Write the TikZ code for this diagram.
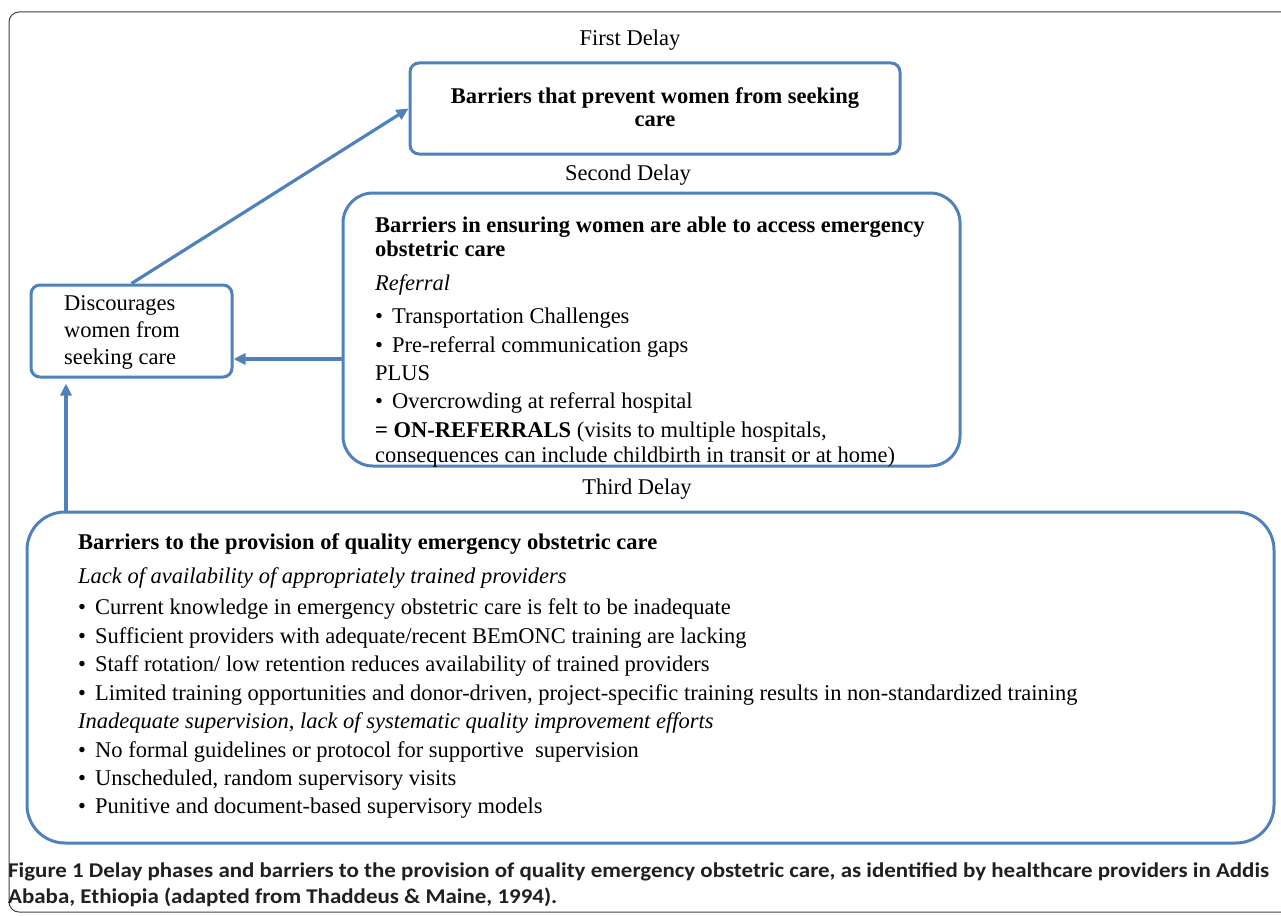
\documentclass[tikz,border=0pt]{standalone}
\usepackage{fontspec}
\setmainfont{Liberation Serif}
\newfontfamily\capfont[FakeStretch=1.092]{Carlito}
\usetikzlibrary{arrows.meta}
\definecolor{boxblue}{RGB}{79,129,189}
\definecolor{capgray}{RGB}{35,31,32}
\newcommand{\bul}{\makebox[17pt][l]{•}}
\begin{document}
\begin{tikzpicture}[x=1pt,y=-1pt,
  bbox/.style={draw=boxblue, line width=3pt, inner sep=0pt},
  arr/.style={draw=boxblue, line width=3.2pt, -{Triangle[length=12pt,width=11pt]}},
  txt/.style={anchor=base west, inner sep=0pt, font=\fontsize{22.5}{28}\selectfont},
  ctxt/.style={anchor=base, inner sep=0pt, font=\fontsize{22.5}{28}\selectfont},
  captxt/.style={anchor=base west, inner sep=0pt, text=capgray, font=\capfont\bfseries\fontsize{21}{26}\selectfont}]
\useasboundingbox (0,0) rectangle (1281,915);
\begin{scope}
\clip (0,0) rectangle (1281,915);
\draw[black!75, line width=1pt, rounded corners=10pt] (9,12) rectangle (1310,912);
\end{scope}

% boxes
\node[bbox, minimum width=490pt, minimum height=91pt, rounded corners=9pt] (b1) at (655,108.5) {};
\node[bbox, minimum width=617pt, minimum height=273pt, rounded corners=30pt] (b2) at (651.5,329.5) {};
\node[bbox, minimum width=1247pt, minimum height=331pt, rounded corners=38pt] (b3) at (650.5,677.5) {};
\node[bbox, minimum width=201pt, minimum height=92pt, rounded corners=9pt] (disc) at (131.5,331) {};

% delay labels
\node[ctxt] (d1) at (630,46) {First Delay};
\node[ctxt] (d2) at (628,180) {Second Delay};
\node[ctxt] (d3) at (637,494) {Third Delay};

% box 1
\node[ctxt] (b1a) at (655,104) {\bfseries Barriers that prevent women from seeking};
\node[ctxt] (b1b) at (655,127) {\bfseries care};

% discourages
\node[txt] (dc1) at (64,310) {Discourages};
\node[txt] (dc2) at (64,337) {women from};
\node[txt] (dc3) at (64,364) {seeking care};

% box 2
\node[txt] (s1) at (375,232) {\bfseries Barriers in ensuring women are able to access emergency};
\node[txt] (s2) at (375,256) {\bfseries obstetric care};
\node[txt] (s3) at (375,290) {\itshape Referral};
\node[txt] (s4) at (375,323) {\bul Transportation Challenges};
\node[txt] (s5) at (375,352) {\bul Pre-referral communication gaps};
\node[txt] (s6) at (375,380) {PLUS};
\node[txt] (s7) at (375,408) {\bul Overcrowding at referral hospital};
\node[txt] (s8) at (375,437) {\textbf{= ON-REFERRALS} (visits to multiple hospitals,};
\node[txt] (s9) at (375,462) {consequences can include childbirth in transit or at home)};

% box 3
\node[txt] (t1) at (78,549) {\bfseries Barriers to the provision of quality emergency obstetric care};
\node[txt] (t2) at (78,583) {\itshape Lack of availability of appropriately trained providers};
\node[txt] (t3) at (78,614) {\bul Current knowledge in emergency obstetric care is felt to be inadequate};
\node[txt] (t4) at (78,643) {\bul Sufficient providers with adequate/recent BEmONC training are lacking};
\node[txt] (t5) at (78,671.5) {\bul Staff rotation/ low retention reduces availability of trained providers};
\node[txt] (t6) at (78,700) {\bul Limited training opportunities and donor-driven, project-specific training results in non-standardized training};
\node[txt] (t7) at (78,728) {\itshape Inadequate supervision, lack of systematic quality improvement efforts};
\node[txt] (t8) at (78,757) {\bul No formal guidelines or protocol for supportive\ \ supervision};
\node[txt] (t9) at (78,785) {\bul Unscheduled, random supervisory visits};
\node[txt] (t10) at (78,813) {\bul Punitive and document-based supervisory models};

% connectors
\coordinate (a2) at (0,359);
\coordinate (a3) at (66,0);
\draw[arr] (disc.north) -- (b1.west);
\draw[arr] (b2.west |- a2) -- (disc.east |- a2);
\draw[arr, shorten >=5pt] (b3.north -| a3) -- (disc.south -| a3);

% caption
\node[captxt] (c1) at (8,877) {Figure 1 Delay phases and barriers to the provision of quality emergency obstetric care, as identified by healthcare providers in Addis};
\node[captxt] (c2) at (8,903) {Ababa, Ethiopia (adapted from Thaddeus \& Maine, 1994).};
\end{tikzpicture}
\end{document}
